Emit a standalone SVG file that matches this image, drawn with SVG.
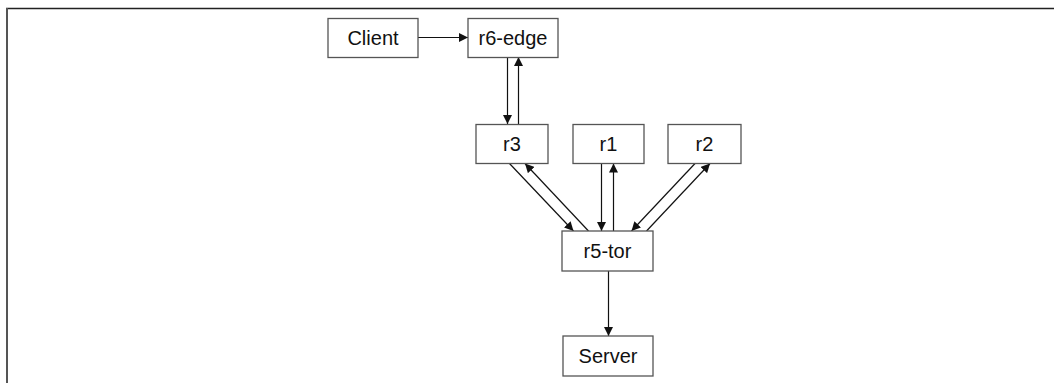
<svg xmlns="http://www.w3.org/2000/svg" width="1054" height="383" viewBox="0 0 1054 383">
<defs>
<style>
.box{fill:#fff;stroke:#555;stroke-width:1.3}
.lbl{font-family:"Liberation Sans",Arial,sans-serif;font-size:20px;fill:#111;text-anchor:middle}
.ln{stroke:#111;stroke-width:1.2;fill:none;marker-end:url(#ah)}
</style>
<marker id="ah" viewBox="0 0 10 10" refX="10" refY="5" markerWidth="9" markerHeight="9" markerUnits="userSpaceOnUse" orient="auto">
<path d="M0,0 L10,5 L0,10 z" fill="#111"/>
</marker>
</defs>
<rect width="1054" height="383" fill="#fff"/>
<g id="frame">
<line x1="6" y1="8.5" x2="1054" y2="8.5" stroke="#222" stroke-width="1.6"/>
<line x1="7" y1="8" x2="7" y2="383" stroke="#555" stroke-width="2"/>
</g>
<g id="connectors">
<line class="ln" x1="418" y1="37.5" x2="468" y2="37.5"/>
<line class="ln" x1="507.5" y1="57" x2="507.5" y2="124"/>
<line class="ln" x1="518.5" y1="124" x2="518.5" y2="57"/>
<line class="ln" x1="509.5" y1="163.5" x2="573.5" y2="231"/>
<line class="ln" x1="588.5" y1="231" x2="525" y2="163.5"/>
<line class="ln" x1="601.5" y1="163.5" x2="601.5" y2="231"/>
<line class="ln" x1="613.5" y1="231" x2="613.5" y2="163.5"/>
<line class="ln" x1="695" y1="163.5" x2="631.5" y2="231"/>
<line class="ln" x1="646.5" y1="231" x2="710" y2="163.5"/>
<line class="ln" x1="608.5" y1="271" x2="608.5" y2="336"/>
</g>
<g id="client"><rect class="box" x="328" y="18.5" width="90" height="39"/><text class="lbl" x="373" y="45">Client</text></g>
<g id="r6-edge"><rect class="box" x="468" y="18.5" width="90" height="39"/><text class="lbl" x="513" y="45">r6-edge</text></g>
<g id="r3"><rect class="box" x="476" y="124.5" width="72" height="39"/><text class="lbl" x="512" y="151">r3</text></g>
<g id="r1"><rect class="box" x="573" y="124.5" width="71" height="39"/><text class="lbl" x="608.5" y="151">r1</text></g>
<g id="r2"><rect class="box" x="668" y="124.5" width="73" height="39"/><text class="lbl" x="704.5" y="151">r2</text></g>
<g id="r5-tor"><rect class="box" x="562" y="231" width="91" height="40"/><text class="lbl" x="607.5" y="258">r5-tor</text></g>
<g id="server"><rect class="box" x="563" y="336" width="90" height="40"/><text class="lbl" x="608" y="363">Server</text></g>
</svg>
